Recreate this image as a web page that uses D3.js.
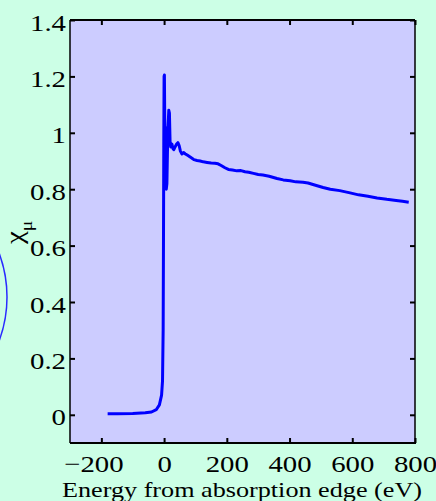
<!DOCTYPE html>
<html>
<head>
<meta charset="utf-8">
<script src="https://cdn.jsdelivr.net/npm/d3@7"></script>
<style>
  html, body { margin: 0; padding: 0; background: #ccffe6; }
  svg { display: block; }
  text { font-family: "Liberation Serif", "Times New Roman", serif; fill: #000; }
</style>
</head>
<body>
<svg id="chart" width="436" height="501"></svg>
<script>
// Normalized absorption around the edge, chi_mu vs energy (eV)
const energy = [-180, -150, -100, -60, -40, -25, -15, -8, -5, -3, -2, -1, 0, 1, 2, 3, 4, 5, 7, 9, 11, 13, 15, 17, 19, 21, 23, 25, 28, 31, 35, 40, 44, 48, 52, 57, 62, 68, 75, 82, 89, 95, 105, 115, 125, 137, 150, 162, 172, 182, 194, 205, 218, 232, 245, 258, 270, 285, 300, 315, 335, 360, 380, 402, 420, 443, 459, 480, 507, 530, 560, 593, 620, 650, 679, 710, 740, 760, 780];
const chiMu = [0.004, 0.004, 0.005, 0.007, 0.01, 0.018, 0.035, 0.07, 0.12, 0.3, 0.6, 0.95, 1.2, 1.205, 1.05, 0.96, 1.02, 0.9, 0.8, 0.82, 0.95, 1.03, 1.08, 1.07, 0.97, 0.95, 0.955, 0.96, 0.945, 0.94, 0.95, 0.96, 0.965, 0.955, 0.935, 0.925, 0.93, 0.925, 0.92, 0.915, 0.91, 0.905, 0.902, 0.9, 0.897, 0.895, 0.893, 0.892, 0.89, 0.884, 0.876, 0.87, 0.868, 0.865, 0.866, 0.862, 0.86, 0.856, 0.852, 0.85, 0.846, 0.838, 0.833, 0.83, 0.826, 0.825, 0.822, 0.815, 0.806, 0.8, 0.795, 0.787, 0.78, 0.775, 0.769, 0.764, 0.76, 0.757, 0.754];

const xTicks = [-200, 0, 200, 400, 600, 800];
const yTicks = [0, 0.2, 0.4, 0.6, 0.8, 1, 1.2, 1.4];
const xLabel = "Energy from absorption edge (eV)";

const svg = d3.select("#chart");
const plot = { left: 70, top: 20, right: 415, bottom: 443 };
const SERIF = '"Liberation Serif", "Times New Roman", serif';
const stretch = 1.2; // labels are drawn slightly wide

const x = d3.scaleLinear().domain([-300, 800]).range([plot.left, plot.right]);
const y = d3.scaleLinear().domain([-0.1, 1.4]).range([plot.bottom, plot.top]);

// decorative circle peeking in from the left edge
svg.append("circle")
  .attr("cx", -119).attr("cy", 297).attr("r", 126)
  .attr("fill", "none").attr("stroke", "#2a2aff").attr("stroke-width", 1.5);

// plot background
svg.append("rect")
  .attr("x", plot.left).attr("y", plot.top)
  .attr("width", plot.right - plot.left).attr("height", plot.bottom - plot.top)
  .attr("fill", "#ccccff");

// data line
const pts = energy.map((e, i) => [e, chiMu[i]]);
const line = d3.line().x(d => x(d[0])).y(d => y(d[1]));
svg.append("path")
  .datum(pts)
  .attr("d", line)
  .attr("fill", "none")
  .attr("stroke", "#0000ff")
  .attr("stroke-width", 3)
  .attr("stroke-linejoin", "round");

// axes: ticks point inward, mirrored on opposite sides
const tl = 5;
const fmtY = d => d3.format("~g")(d);
const fmtX = d => (d < 0 ? "\u2212" + Math.abs(d) : String(d));

const gB = svg.append("g").attr("transform", `translate(0,${plot.bottom})`)
  .call(d3.axisBottom(x).tickValues(xTicks).tickSize(-tl).tickPadding(12).tickFormat(fmtX));
const gT = svg.append("g").attr("transform", `translate(0,${plot.top})`)
  .call(d3.axisTop(x).tickValues(xTicks).tickSize(-tl).tickFormat(""));
const gL = svg.append("g").attr("transform", `translate(${plot.left},0)`)
  .call(d3.axisLeft(y).tickValues(yTicks).tickSize(-tl).tickPadding(4).tickFormat(fmtY));
const gR = svg.append("g").attr("transform", `translate(${plot.right},0)`)
  .call(d3.axisRight(y).tickValues(yTicks).tickSize(-tl).tickFormat(""));

[gB, gT, gL, gR].forEach(g => {
  g.attr("font-family", null);
  g.select(".domain").remove();
  g.selectAll(".tick line").attr("stroke", "#000").attr("stroke-width", 2);
  g.selectAll("text")
    .attr("font-size", 24)
    .style("font-family", SERIF)
    .attr("fill", "#000");
});
gB.selectAll(".tick text")
  .attr("y", 12)
  .attr("dy", "0.71em")
  .attr("dx", d => d < 0 ? -8 / stretch : 0)
  .attr("transform", `scale(${stretch},1)`);
gL.selectAll(".tick text")
  .attr("x", -4 / stretch)
  .attr("dy", "0.42em")
  .attr("transform", `scale(${stretch},1)`);

// frame
svg.append("line").attr("x1", plot.left).attr("x2", plot.right).attr("y1", plot.top).attr("y2", plot.top)
  .attr("stroke", "#000").attr("stroke-width", 2);
svg.append("line").attr("x1", plot.left).attr("x2", plot.right + 1).attr("y1", plot.bottom).attr("y2", plot.bottom)
  .attr("stroke", "#000").attr("stroke-width", 2);
svg.append("line").attr("x1", plot.left).attr("x2", plot.left).attr("y1", plot.top).attr("y2", plot.bottom)
  .attr("stroke", "#000").attr("stroke-width", 1.5);
svg.append("line").attr("x1", plot.right).attr("x2", plot.right).attr("y1", plot.top).attr("y2", plot.bottom)
  .attr("stroke", "#000").attr("stroke-width", 1.5);

// axis titles
svg.append("text")
  .attr("x", 62).attr("y", 497)
  .attr("font-size", 21)
  .attr("textLength", 360)
  .attr("lengthAdjust", "spacingAndGlyphs")
  .style("font-family", SERIF)
  .text(xLabel);

const yl = svg.append("text")
  .attr("transform", "translate(23,244) rotate(-90) scale(1.15,1)")
  .attr("font-size", 25)
  .style("font-family", SERIF);
yl.append("tspan").text("\u03c7");
yl.append("tspan").attr("font-size", 17).attr("dy", 9).text("\u03bc");
</script>
</body>
</html>
